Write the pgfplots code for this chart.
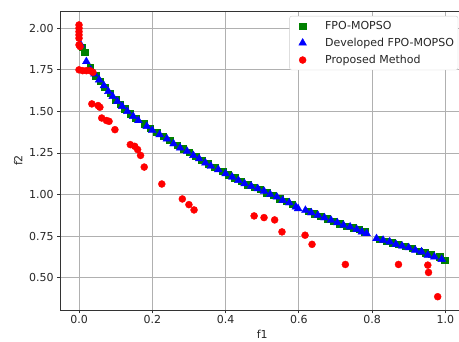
\documentclass[border=0pt]{standalone}
\usepackage{pgfplots}
\pgfplotsset{compat=1.18}
\usepackage{fontspec}
\setmainfont{DejaVu Sans}
\definecolor{mplgreen}{HTML}{008000}
\definecolor{mplblue}{HTML}{0000FF}
\definecolor{mplred}{HTML}{FF0000}
\begin{document}
\begin{tikzpicture}
\begin{axis}[
  name=ax,
  scale only axis,
  width=403pt, height=299pt,
  xmin=-0.05, xmax=1.05,
  ymin=0.305, ymax=2.104,
  xtick={0,0.2,0.4,0.6,0.8,1.0},
  ytick={0.5,0.75,1.0,1.25,1.5,1.75,2.0},
  xticklabel style={yshift=2pt, /pgf/number format/.cd,fixed,fixed zerofill,precision=1},
  yticklabel style={/pgf/number format/.cd,fixed,fixed zerofill,precision=2},
  /pgf/number format/assume math mode=true,
  tick label style={font=\fontsize{11}{13}\selectfont, text=black!85},
  label style={font=\fontsize{11}{13}\selectfont, text=black!85},
  xlabel={f1}, ylabel={f2},
  xtick pos=bottom, ytick pos=left,
  tick align=outside,
  major tick length=3.5pt,
  every tick/.style={black!80, line width=0.8pt},
  axis line style={black!80, line width=0.8pt},
  grid=major,
  major grid style={color=black!31, line width=0.8pt},
  legend style={at={(rel axis cs:1,1)}, anchor=north east, xshift=-5.5pt, yshift=-5pt,
    draw=black!20, rounded corners=2pt, font=\fontsize{11}{13}\selectfont, text=black!85,
    fill=white, inner xsep=2pt, inner ysep=3pt,
    row sep=3.2pt},
  legend cell align=left,
  legend image code/.code={\path[draw=none,fill=none] (0pt,-3pt) rectangle (31.5pt,3pt); \draw[only marks] plot coordinates {(11pt,0pt)};},
]
\addplot[only marks, mark=square*, mark size=3.2pt, color=mplgreen, mark options={draw=mplgreen, fill=mplgreen}] coordinates {
(0.008,1.885) (0.015,1.855) (0.030,1.765) (0.045,1.715) (0.058,1.680) (0.070,1.645)
(0.085,1.610) (0.100,1.570) (0.112,1.545) (0.125,1.515) (0.140,1.485) (0.155,1.460)
(0.178,1.425) (0.195,1.400) (0.212,1.375) (0.230,1.350) (0.248,1.325) (0.268,1.295)
(0.285,1.275) (0.300,1.255) (0.318,1.230) (0.335,1.205) (0.352,1.185) (0.370,1.165)
(0.392,1.140) (0.408,1.120) (0.425,1.100) (0.442,1.080) (0.460,1.060) (0.478,1.045)
(0.495,1.030) (0.512,1.010) (0.530,0.995) (0.548,0.975) (0.565,0.960) (0.582,0.940)
(0.625,0.900) (0.642,0.885) (0.660,0.870) (0.678,0.855) (0.695,0.840) (0.712,0.825)
(0.730,0.810) (0.748,0.800) (0.765,0.790) (0.780,0.775) (0.820,0.730) (0.838,0.720)
(0.855,0.710) (0.872,0.700) (0.890,0.690) (0.910,0.675) (0.928,0.660) (0.945,0.650)
(0.962,0.640) (0.985,0.625) (0.998,0.605)
};
\addlegendentry{FPO-MOPSO}
\addplot[only marks, mark=triangle*, mark size=4.5pt, color=mplblue, mark options={draw=mplblue, fill=mplblue}] coordinates {
(0.005,1.900) (0.020,1.800) (0.032,1.750) (0.042,1.725) (0.055,1.690) (0.068,1.655)
(0.080,1.620) (0.092,1.590) (0.105,1.560) (0.118,1.530) (0.132,1.500) (0.148,1.470)
(0.162,1.445) (0.185,1.410) (0.200,1.385) (0.220,1.360) (0.240,1.335) (0.258,1.305)
(0.276,1.280) (0.295,1.260) (0.312,1.235) (0.328,1.215) (0.345,1.190) (0.360,1.170)
(0.380,1.150) (0.400,1.125) (0.418,1.105) (0.435,1.085) (0.452,1.065) (0.470,1.050)
(0.488,1.035) (0.505,1.020) (0.522,1.000) (0.540,0.985) (0.556,0.965) (0.574,0.950)
(0.592,0.925) (0.598,0.915) (0.618,0.905) (0.634,0.890) (0.652,0.875) (0.670,0.860)
(0.688,0.845) (0.705,0.830) (0.722,0.815) (0.740,0.805) (0.758,0.790) (0.772,0.775)
(0.785,0.765) (0.812,0.735) (0.830,0.725) (0.848,0.715) (0.865,0.700) (0.882,0.690)
(0.900,0.680) (0.918,0.665) (0.935,0.655) (0.952,0.635) (0.970,0.625) (0.990,0.610)
};
\addlegendentry{Developed FPO-MOPSO}
\addplot[only marks, mark=*, mark size=3.5pt, color=mplred, mark options={draw=mplred, fill=mplred}] coordinates {
(0.000,2.020) (0.000,2.000) (0.000,1.980) (0.000,1.960) (0.000,1.940) (0.000,1.900)
(0.003,1.890) (0.000,1.750) (0.010,1.745) (0.020,1.745) (0.030,1.745) (0.038,1.735)
(0.035,1.545) (0.052,1.535) (0.057,1.525) (0.062,1.460) (0.075,1.445) (0.082,1.440)
(0.098,1.390) (0.140,1.300) (0.152,1.290) (0.160,1.270) (0.168,1.235) (0.178,1.165)
(0.226,1.063) (0.282,0.973) (0.300,0.939) (0.314,0.907) (0.478,0.871) (0.505,0.861)
(0.534,0.847) (0.554,0.775) (0.617,0.755) (0.636,0.700) (0.727,0.579) (0.872,0.579)
(0.952,0.575) (0.954,0.531) (0.979,0.385)
};
\addlegendentry{Proposed Method}
\end{axis}
\pgfresetboundingbox
\path ([xshift=-60.7pt,yshift=-32pt]ax.south west) rectangle ([xshift=398.3pt,yshift=11pt]ax.north west);
\end{tikzpicture}
\end{document}
